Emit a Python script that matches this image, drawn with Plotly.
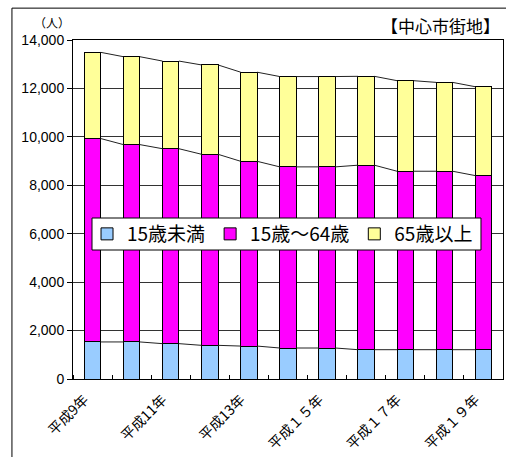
import plotly.graph_objects as go

categories = ["平成9年", "平成10年", "平成11年", "平成12年", "平成13年", "平成14年",
              "平成１５年", "平成１６年", "平成１７年", "平成１８年", "平成１９年"]
label_every = 2
series_names = ["15歳未満", "15歳～64歳", "65歳以上"]
under15 = [1530, 1530, 1460, 1390, 1360, 1280, 1280, 1210, 1210, 1210, 1210]
age15_64 = [8400, 8150, 8050, 7890, 7630, 7480, 7480, 7620, 7370, 7370, 7190]
over65 = [3560, 3630, 3620, 3690, 3680, 3730, 3730, 3670, 3740, 3670, 3670]
colors = ["#99ccff", "#ff00ff", "#ffff99"]

bar_width = 0.42
x = list(range(len(categories)))

fig = go.Figure()
series = [under15, age15_64, over65]
for name, vals, col in zip(series_names, series, colors):
    fig.add_trace(go.Bar(x=x, y=vals, name=name, width=bar_width,
                         marker=dict(color=col, line=dict(color="black", width=1))))

# series lines connecting the stack boundaries of adjacent bars
cum = [0] * len(x)
for vals in series:
    cum = [c + v for c, v in zip(cum, vals)]
    lx, ly = [], []
    for i in range(len(x) - 1):
        lx += [x[i] + bar_width / 2, x[i + 1] - bar_width / 2, None]
        ly += [cum[i], cum[i + 1], None]
    fig.add_trace(go.Scatter(x=lx, y=ly, mode="lines", showlegend=False,
                             line=dict(color="#222222", width=1), hoverinfo="skip"))

tickvals = x[::label_every]
ticktext = categories[::label_every]

fig.update_layout(
    width=506, height=457,
    margin=dict(l=73, r=3, t=40, b=78),
    paper_bgcolor="white", plot_bgcolor="white",
    barmode="stack",
    font=dict(family="Liberation Sans, Arial, sans-serif", color="black"),
    xaxis=dict(range=[-0.5, 10.5], tickvals=tickvals, ticktext=ticktext,
               tickangle=-45, ticks="", showgrid=False, zeroline=False,
               automargin=False, ticklabelshift=-8, ticklabelstandoff=6,
               showline=True, linecolor="black", linewidth=1, mirror=True,
               tickfont=dict(family="Noto Sans CJK JP", size=14),
               minor=dict(ticks="inside", tick0=-0.5, dtick=1, ticklen=4,
                          tickcolor="black", showgrid=False)),
    yaxis=dict(range=[0, 14000], dtick=2000, tickformat=",", ticks="outside",
               automargin=False,
               ticklen=5, tickcolor="black", showgrid=True, gridcolor="#333333",
               gridwidth=1, zeroline=False, showline=True, linecolor="black",
               linewidth=1, mirror=True, tickfont=dict(size=14)),
    legend=dict(orientation="h", x=0.0326, y=0.4277, xanchor="left", yanchor="middle",
                bgcolor="rgba(0,0,0,0)", borderwidth=0,
                traceorder="normal", itemwidth=30,
                font=dict(family="Noto Sans CJK JP", size=19)),
    shapes=[
        dict(type="line", xref="paper", yref="paper", x0=-0.142, x1=-0.142,
             y0=-0.24, y1=1.094, line=dict(color="black", width=1)),
        dict(type="line", xref="paper", yref="paper", x0=-0.142, x1=1.01,
             y0=1.094, y1=1.094, line=dict(color="black", width=1)),
        # legend box
        dict(type="rect", xref="paper", yref="paper", x0=0.0442, x1=0.9488,
             y0=0.3805, y1=0.4749, fillcolor="white", layer="above",
             line=dict(color="black", width=1)),
    ],
    annotations=[
        dict(text="（人）", xref="paper", yref="paper", x=-0.049, y=1.053,
             xanchor="center", yanchor="middle", showarrow=False,
             font=dict(family="Noto Sans CJK JP", size=12)),
        dict(text="【中心市街地】", xref="paper", yref="paper", x=0.998, y=1.044,
             xanchor="right", yanchor="middle", showarrow=False,
             font=dict(family="Noto Sans CJK JP", size=17)),
    ],
)

fig.write_html("out.html", config={"displayModeBar": False},
               post_script="document.body.style.margin='0px';")
